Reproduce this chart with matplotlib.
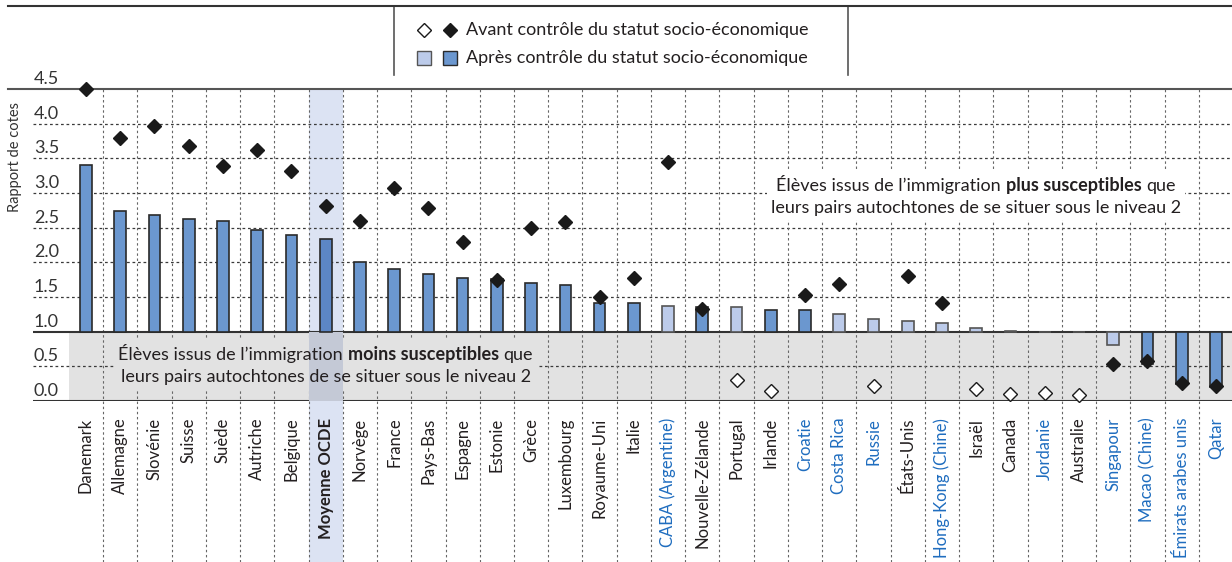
import numpy as np
import matplotlib.pyplot as plt
import matplotlib.transforms as mtrans
from matplotlib.lines import Line2D
from matplotlib.patches import Rectangle
from matplotlib.offsetbox import TextArea, HPacker, VPacker, AnnotationBbox

plt.rcParams['font.family'] = ['Lato', 'DejaVu Sans']

# data
cats = ['Danemark', 'Allemagne', 'Slovénie', 'Suisse', 'Suède', 'Autriche', 'Belgique',
        'Moyenne OCDE', 'Norvège', 'France', 'Pays-Bas', 'Espagne', 'Estonie', 'Grèce',
        'Luxembourg', 'Royaume-Uni', 'Italie', 'CABA (Argentine)', 'Nouvelle-Zélande',
        'Portugal', 'Irlande', 'Croatie', 'Costa Rica', 'Russie', 'États-Unis',
        'Hong-Kong (Chine)', 'Israël', 'Canada', 'Jordanie', 'Australie', 'Singapour',
        'Macao (Chine)', 'Émirats arabes unis', 'Qatar']
before = [4.50, 3.79, 3.96, 3.68, 3.39, 3.62, 3.32, 2.81, 2.60, 3.07, 2.78, 2.29, 1.74, 2.49,
          2.58, 1.50, 1.77, 3.45, 1.33, 0.30, 0.15, 1.53, 1.69, 0.22, 1.81, 1.42, 0.17, 0.10,
          0.11, 0.09, 0.53, 0.58, 0.26, 0.22]
after = [3.40, 2.74, 2.68, 2.63, 2.60, 2.46, 2.39, 2.34, 2.00, 1.90, 1.83, 1.77, 1.76, 1.70,
         1.67, 1.42, 1.41, 1.37, 1.36, 1.36, 1.31, 1.31, 1.25, 1.18, 1.15, 1.13, 1.06, 1.01,
         0.99, 0.99, 0.81, 0.54, 0.25, 0.20]
sig_before = [1, 1, 1, 1, 1, 1, 1, 1, 1, 1, 1, 1, 1, 1, 1, 1, 1, 1, 1, 0, 0, 1, 1, 0, 1, 1, 0,
              0, 0, 0, 1, 1, 1, 1]
sig_after = [1, 1, 1, 1, 1, 1, 1, 1, 1, 1, 1, 1, 1, 1, 1, 1, 1, 0, 1, 0, 1, 1, 0, 0, 0, 0, 0,
             0, 0, 0, 0, 1, 1, 1]
partners = ['CABA (Argentine)', 'Croatie', 'Costa Rica', 'Russie', 'Hong-Kong (Chine)',
            'Jordanie', 'Singapour', 'Macao (Chine)', 'Émirats arabes unis', 'Qatar']
yticks = [0.0, 0.5, 1.0, 1.5, 2.0, 2.5, 3.0, 3.5, 4.0, 4.5]

DARK = '#6b97cf'
LIGHT = '#bccbea'
OECD_BAR = '#5c86c5'
GREY = '#e2e2e2'
BAND = '#dce3f3'
BAND_GREY = '#c4c9d6'
BLUE = '#1f6dbf'
TXT = '#231f20'

W, H = 1232, 562
fig = plt.figure(figsize=(W / 100, H / 100), dpi=100)
ax = fig.add_axes([33 / W, 161 / H, 1199 / W, 312 / H])

n = len(cats)
x = np.arange(n)
before = np.array(before)
after = np.array(after)
sb = np.array(sig_before, bool)
sa = np.array(sig_after, bool)
oecd = cats.index('Moyenne OCDE')

step = 34.24
ax.set_xlim((33 - 86) / step, (1232 - 86) / step)
ax.set_ylim(0, 4.5)
for s in ax.spines.values():
    s.set_visible(False)
ybot = -161 / 312   # bottom of the figure in axes units

# grey "less likely" zone and OECD highlight
ax.add_patch(Rectangle((-0.5, 0), n, 1, fc=GREY, ec='none', zorder=0))
ax.axvspan(oecd - 0.5, oecd + 0.5, ymin=ybot, ymax=1, color=BAND, lw=0, zorder=0.5, clip_on=False)
ax.axvspan(oecd - 0.5, oecd + 0.5, ymin=0, ymax=1 / 4.5, color=BAND_GREY, lw=0, zorder=0.6)

# grid
for v in yticks:
    if v in (0.0, 1.0, 4.5):
        continue
    ax.axhline(v, color='#3a3a3a', lw=0.9, ls=(0, (2.2, 2.2)), zorder=1)
ax.axhline(0, color='#333333', lw=1.5, zorder=1.5)
ax.axhline(1, color='#333333', lw=1.5, zorder=1.5)
ax.plot([(8 - 33) / 1199, 1], [1, 1], transform=ax.transAxes, color='#555555', lw=1.5,
        clip_on=False, zorder=1.5)
blend = mtrans.blended_transform_factory(ax.transData, ax.transAxes)
ax.vlines(x[:-1] + 0.5, ybot, 1, transform=blend, colors='#666666', lw=0.8,
          linestyles=(0, (2.2, 2.4)), clip_on=False, zorder=1)

# y tick labels sitting on top of their lines
ylab_tr = mtrans.offset_copy(mtrans.blended_transform_factory(ax.transAxes, ax.transData),
                             fig=fig, x=1, y=2, units='dots')
for v in yticks:
    ax.text(0, v, f'{v:.1f}', transform=ylab_tr, ha='left', va='bottom', fontsize=13,
            color='#333333')
ax.tick_params(axis='y', left=False, labelleft=False)

# x labels
ax.set_xticks(x, cats, rotation=90, fontsize=12)
ax.tick_params(axis='x', length=0, pad=12)
for lbl, c in zip(ax.get_xticklabels(), cats):
    lbl.set_color(BLUE if c in partners else TXT)
    if c == 'Moyenne OCDE':
        lbl.set_fontweight('bold')

# bars from the odds-ratio baseline of 1
bar_cols = [DARK if s else LIGHT for s in sa]
bar_cols[oecd] = OECD_BAR
edge_cols = ['#2a2a2a' if s else '#555555' for s in sa]
ax.bar(x, after - 1, bottom=1, width=0.34, color=bar_cols, edgecolor=edge_cols, lw=1.2, zorder=3)

# markers
ax.plot(x[sb], before[sb], 'D', ms=7.5, mfc='#1a1a1a', mec='#1a1a1a', ls='none', zorder=4,
        clip_on=False)
ax.plot(x[~sb], before[~sb], 'D', ms=7.5, mfc='white', mec='#1a1a1a', mew=1, ls='none',
        zorder=4, clip_on=False)


def note(xy, lines, fc, z, color=TXT):
    rows = []
    for line in lines:
        parts = [TextArea(t, textprops=dict(fontsize=13, fontweight=w, color=color))
                 for t, w in line]
        rows.append(HPacker(children=parts, pad=0, sep=3.5, align='baseline'))
    box = VPacker(children=rows, pad=0, sep=4, align='center')
    ab = AnnotationBbox(box, xy, xycoords='data', frameon=fc is not None, pad=0.3,
                        bboxprops=dict(fc=fc, ec='none'), zorder=z)
    ax.add_artist(ab)


plus_txt = [[('Élèves issus de l’immigration', 'normal'), ('plus susceptibles', 'bold'),
             ('que', 'normal')],
            [('leurs pairs autochtones de se situer sous le niveau 2', 'normal')]]
moins_txt = [[('Élèves issus de l’immigration', 'normal'), ('moins susceptibles', 'bold'),
              ('que', 'normal')],
             [('leurs pairs autochtones de se situer sous le niveau 2', 'normal')]]
note((26, 2.96), plus_txt, 'white', 2)
note((oecd, 0.53), moins_txt, GREY, 2, color=GREY)
ax.axvspan(oecd - 0.5, oecd + 0.5, ymin=0, ymax=1 / 4.5, color=BAND_GREY, lw=0, zorder=2.5)
note((oecd, 0.53), moins_txt, None, 6)

fig.text(15 / W, 1 - 157 / H, 'Rapport de cotes', rotation=90, ha='center', va='center',
         fontsize=10.5, color='#333333')

# legend block at the top
fig.add_artist(Line2D([8 / W, 1], [1 - 6 / H, 1 - 6 / H], color='#333333', lw=1.5))
lax = fig.add_axes([394 / W, 1 - 75 / H, (848 - 394) / W, 69 / H])
lax.set_xlim(394, 848)
lax.set_ylim(75, 6)
lax.axis('off')
lax.plot([394.5, 394.5], [6, 75], color='#555555', lw=1.2, clip_on=False)
lax.plot([847.5, 847.5], [6, 75], color='#555555', lw=1.2, clip_on=False)
lax.plot([424], [30], 'D', ms=7.5, mfc='white', mec='#1a1a1a', mew=1)
lax.plot([450], [30], 'D', ms=7.5, mfc='#1a1a1a', mec='#1a1a1a')
lax.plot([424], [58], 's', ms=10, mfc=LIGHT, mec='#555555', mew=1)
lax.plot([450], [58], 's', ms=10, mfc=DARK, mec='#2a2a2a', mew=1)
lax.text(466, 30, 'Avant contrôle du statut socio-économique', va='center', ha='left',
         fontsize=13, color=TXT)
lax.text(466, 58, 'Après contrôle du statut socio-économique', va='center', ha='left',
         fontsize=13, color=TXT)

fig.savefig('out.png', dpi=100)
